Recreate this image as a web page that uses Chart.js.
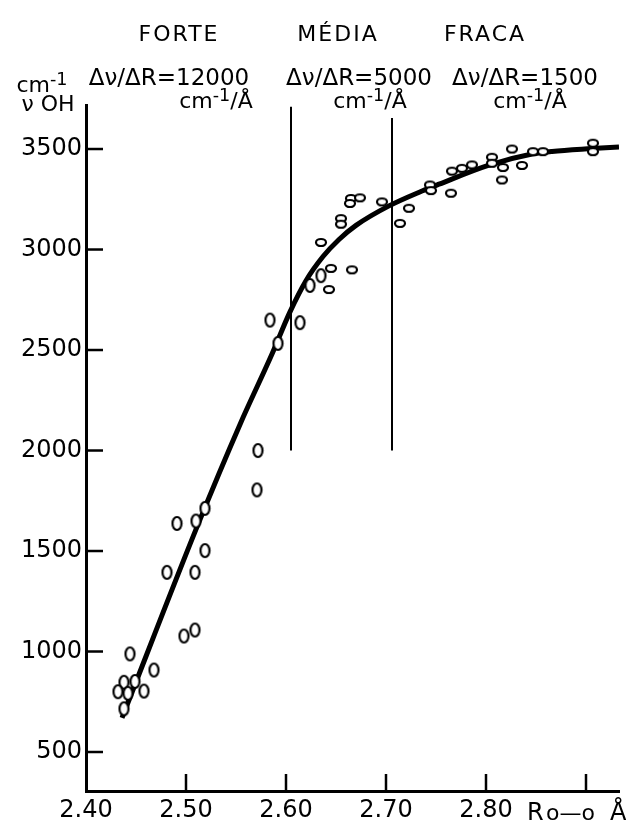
<!DOCTYPE html>
<html>
<head>
<meta charset="utf-8">
<script src="https://cdn.jsdelivr.net/npm/chart.js@4.4.1/dist/chart.umd.min.js"></script>
<style>
  html, body { margin: 0; padding: 0; background: #fff; }
  canvas { display: block; }
</style>
</head>
<body>
<canvas id="ohChart" width="626" height="821"></canvas>
<script>
// tick labels
const xTicks = [2.40, 2.50, 2.60, 2.70, 2.80, 2.90]
const yTicks = [500, 1000, 1500, 2000, 2500, 3000, 3500]

// fitted curve nu(OH) vs R(O-O)
const curveR  = [2.436, 2.511, 2.554, 2.586, 2.604, 2.620, 2.637, 2.653, 2.670, 2.703, 2.736, 2.753, 2.803, 2.846, 2.866, 2.906, 2.933]
const curveNu = [670, 1620, 2130, 2480, 2690, 2845, 2965, 3050, 3120, 3217, 3291, 3325, 3420, 3475, 3488, 3502, 3510]

// measured points, strong bonds (tall ovals)
const strongR  = [2.519, 2.491, 2.510, 2.519, 2.481, 2.509, 2.498, 2.509, 2.444, 2.468, 2.438, 2.449, 2.432, 2.442, 2.458, 2.438, 2.584, 2.614, 2.592, 2.572, 2.571, 2.624, 2.635]
const strongNu = [1712, 1637, 1649, 1502, 1394, 1394, 1077, 1107, 988, 908, 847, 851, 800, 792, 803, 715, 2649, 2636, 2533, 2000, 1804, 2821, 2870]

// measured points, medium / weak bonds (flat ovals)
const weakR  = [2.643, 2.645, 2.666, 2.635, 2.655, 2.655, 2.665, 2.674, 2.664, 2.696, 2.714, 2.723, 2.744, 2.745, 2.765, 2.766, 2.776, 2.786, 2.806, 2.806, 2.817, 2.816, 2.826, 2.836, 2.847, 2.857, 2.907, 2.907]
const weakNu = [2801, 2906, 2899, 3035, 3154, 3126, 3254, 3257, 3229, 3237, 3130, 3205, 3321, 3293, 3280, 3390, 3404, 3421, 3459, 3429, 3408, 3346, 3500, 3418, 3487, 3487, 3529, 3487]

// FORTE / MEDIA / FRACA limits
const limitR    = [2.605, 2.706]
const limitLow  = [2000, 2000]
const limitHigh = [3710, 3654]

const FONT = 'DejaVu Sans'

function oval(w, h) {
    const c = document.createElement('canvas')
    c.width = w + 4
    c.height = h + 4
    const g = c.getContext('2d')
    g.beginPath()
    g.ellipse(c.width / 2, c.height / 2, w / 2, h / 2, 0, 0, Math.PI * 2)
    g.fillStyle = '#fff'
    g.fill()
    g.lineWidth = 2.2
    g.strokeStyle = '#000'
    g.stroke()
    return c
}

function toPoints(xs, ys) {
    return xs.map((x, i) => ({ x: x, y: ys[i] }))
}

// text with a raised "-1"
function richText(ctx, parts, cx, y, size) {
    let total = 0
    parts.forEach(p => {
        ctx.font = (p.sup ? size * 0.8 : size) + 'px "' + FONT + '"'
        p.w = ctx.measureText(p.t).width
        total += p.w
    })
    let x = cx - total / 2
    parts.forEach(p => {
        ctx.font = (p.sup ? size * 0.8 : size) + 'px "' + FONT + '"'
        ctx.fillText(p.t, x, p.sup ? y - size * 0.3 : y)
        x += p.w
    })
}

const cmPerA = [{ t: 'cm' }, { t: '-1', sup: true }, { t: '/Å' }]

const annotations = {
    id: 'annotations',
    afterDraw(chart) {
        const ctx = chart.ctx
        const xs = chart.scales.x
        const ys = chart.scales.y
        const area = chart.chartArea
        ctx.save()
        ctx.strokeStyle = '#000'
        ctx.fillStyle = '#000'

        // inward tick marks
        ctx.lineWidth = 2.5
        yTicks.forEach(v => {
            const py = ys.getPixelForValue(v)
            ctx.beginPath()
            ctx.moveTo(area.left, py)
            ctx.lineTo(area.left + 17, py)
            ctx.stroke()
        })
        xTicks.slice(1).forEach(v => {
            const px = xs.getPixelForValue(v)
            ctx.beginPath()
            ctx.moveTo(px, area.bottom)
            ctx.lineTo(px, area.bottom - 17)
            ctx.stroke()
        })

        ctx.textBaseline = 'alphabetic'

        // region names
        ctx.textAlign = 'center'
        ctx.font = '22px "' + FONT + '"'
        ctx.letterSpacing = '2px'
        ctx.fillText('FORTE', 179, 41)
        ctx.fillText('MÉDIA', 338, 41)
        ctx.fillText('FRACA', 485, 41)
        ctx.letterSpacing = '0px'

        // slopes
        ctx.font = '23px "' + FONT + '"'
        ctx.fillText('Δν/ΔR=12000', 169, 85)
        ctx.fillText('Δν/ΔR=5000', 359, 85)
        ctx.fillText('Δν/ΔR=1500', 525, 85)
        ctx.textAlign = 'left'
        richText(ctx, cmPerA, 216, 108, 22)
        richText(ctx, cmPerA, 370, 108, 22)
        richText(ctx, cmPerA, 530, 108, 22)

        // y axis name
        richText(ctx, [{ t: 'cm' }, { t: '-1', sup: true }], 42, 92, 22)
        ctx.font = '22px "' + FONT + '"'
        ctx.textAlign = 'center'
        ctx.fillText('ν OH', 48, 111)

        // x axis name next to 2.90
        const p29 = xs.getPixelForValue(2.90)
        ctx.textAlign = 'left'
        ctx.font = '24px "' + FONT + '"'
        ctx.fillText('R', p29 - 59, 820)
        ctx.font = '22px "' + FONT + '"'
        ctx.fillText('o—o', p29 - 40, 820)
        ctx.font = '24px "' + FONT + '"'
        ctx.fillText('Å', p29 + 24, 820)
        ctx.restore()
    }
}

const datasets = [
    {
        label: 'pontos fortes',
        data: toPoints(strongR, strongNu),
        pointStyle: oval(9, 13),
        pointRadius: 6,
        order: 0
    },
    {
        label: 'pontos fracos',
        data: toPoints(weakR, weakNu),
        pointStyle: oval(10, 7),
        pointRadius: 5,
        order: 0
    },
    {
        label: 'curva',
        data: toPoints(curveR, curveNu),
        showLine: true,
        borderColor: '#000',
        borderWidth: 5,
        pointRadius: 0,
        cubicInterpolationMode: 'monotone',
        order: 2
    }
]
limitR.forEach((r, i) => {
    datasets.push({
        label: 'limite ' + (i + 1),
        data: [{ x: r, y: limitLow[i] }, { x: r, y: limitHigh[i] }],
        showLine: true,
        borderColor: '#000',
        borderWidth: 2,
        pointRadius: 0,
        order: 1
    })
})

new Chart(document.getElementById('ohChart'), {
    type: 'scatter',
    data: { datasets: datasets },
    options: {
        responsive: false,
        animation: false,
        layout: { padding: { top: 105, right: 6, left: 0, bottom: 0 } },
        plugins: {
            legend: { display: false },
            tooltip: { enabled: false }
        },
        scales: {
            x: {
                type: 'linear',
                min: 2.40,
                max: 2.933,
                afterBuildTicks: s => { s.ticks = xTicks.map(v => ({ value: v })) },
                afterFit: s => { s.height = 30 },
                grid: { display: false, drawTicks: false },
                border: { display: true, color: '#000', width: 3 },
                ticks: {
                    color: '#000',
                    font: { family: FONT, size: 24 },
                    padding: 5,
                    maxRotation: 0,
                    autoSkip: false,
                    callback: v => (Math.abs(v - 2.90) < 1e-6 ? '' : Number(v).toFixed(2))
                }
            },
            y: {
                type: 'linear',
                min: 306,
                max: 3719,
                afterBuildTicks: s => { s.ticks = yTicks.map(v => ({ value: v })) },
                afterFit: s => { s.width = 86 },
                grid: { display: false, drawTicks: false },
                border: { display: true, color: '#000', width: 3 },
                ticks: {
                    color: '#000',
                    font: { family: FONT, size: 24 },
                    padding: 4,
                    callback: v => String(v)
                }
            }
        }
    },
    plugins: [annotations]
})
</script>
</body>
</html>
